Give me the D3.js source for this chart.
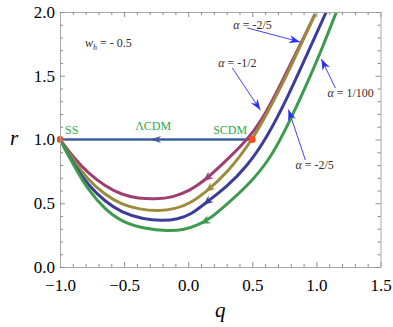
<!DOCTYPE html>
<html>
<head>
<meta charset="utf-8">
<script src="https://cdnjs.cloudflare.com/ajax/libs/d3/7.8.5/d3.min.js"></script>
<style>
	html, body { margin: 0; padding: 0; background: #fff; }
	svg { display: block; font-family: "Liberation Serif", "Times New Roman", serif; }
	.frame .domain { stroke: #a9a9a9; stroke-width: 1; }
	.frame .tick line { stroke: #8c8c8c; }
	.frame .tick text { fill: #000; }
</style>
</head>
<body>
<svg id="chart" width="393" height="327"></svg>
<script>

// ticks on the frame
const qTickValues = [-1, -0.5, 0, 0.5, 1, 1.5];
const qTickLabels = ['\u22121.0', '\u22120.5', '0.0', '0.5', '1.0', '1.5'];
const rTickValues = [0, 0.5, 1, 1.5, 2];
const rTickLabels = ['0.0', '0.5', '1.0', '1.5', '2.0'];

// r(q) trajectories ([q, r])
const magentaTrack = [[-1, 1], [-0.883, 0.845], [-0.781, 0.738], [-0.648, 0.632], [-0.516, 0.566],
	[-0.39, 0.538], [-0.258, 0.533], [-0.12, 0.545], [0.016, 0.6], [0.133, 0.682], [0.273, 0.812],
	[0.469, 1.004], [0.578, 1.16], [0.69, 1.37], [0.797, 1.59], [0.875, 1.745], [0.985, 1.975]];
const oliveTrack = [[-1, 1], [-0.883, 0.818], [-0.781, 0.684], [-0.648, 0.565], [-0.516, 0.488],
	[-0.38, 0.452], [-0.234, 0.439], [-0.1, 0.455], [0.016, 0.5], [0.133, 0.583], [0.305, 0.737],
	[0.5, 0.996], [0.617, 1.208], [0.758, 1.48], [0.875, 1.735], [0.987, 1.976]];
const blueTrack = [[-1, 1], [-0.883, 0.786], [-0.781, 0.643], [-0.648, 0.512], [-0.516, 0.426],
	[-0.36, 0.377], [-0.203, 0.361], [-0.08, 0.374], [0.02, 0.41], [0.133, 0.5], [0.302, 0.63],
	[0.458, 0.787], [0.617, 1.02], [0.773, 1.325], [0.93, 1.675], [1.084, 2.016]];
const greenTrack = [[-1, 1], [-0.883, 0.778], [-0.781, 0.606], [-0.648, 0.449], [-0.516, 0.353],
	[-0.34, 0.3], [-0.156, 0.282], [-0.03, 0.292], [0.08, 0.33], [0.17, 0.38], [0.273, 0.467],
	[0.458, 0.63], [0.641, 0.845], [0.797, 1.153], [0.94, 1.467], [1.045, 1.715], [1.162, 2.016]];

// q where the direction arrow sits on each track
const trackArrowQ = [0.117, 0.133, 0.117, 0.094];

// fixed points and the LCDM segment
const fixedPointNames = ['SS', 'SCDM'];
const fixedPointQ = [-1, 0.5];
const fixedPointR = [1, 1];
const lcdmSegment = [[0.5, 1], [-1, 1]];
const lcdmArrowQ = -0.297;

// alpha labels of the annotation arrows
const alphaLabels = ['-2/5', '-1/2', '1/100', '-2/5'];
const wh = '- 0.5';


window.app = window.app || {};

window.app.phaseChart = (function() {

	'use strict';

	var svg,
		xScale,
		yScale,
		settings = {
			left: 60,
			right: 380.5,
			top: 12,
			bottom: 267,
			fontFamily: '"Liberation Serif", "Times New Roman", serif',
			tickFontSize: 17,
			trackColors: ['#9d3f73', '#9c8b3d', '#3c3c99', '#3c9b4d'],
			lcdmColor: '#3e5d9e',
			dotColor: '#ff4a12',
			noteColor: '#2d2dfa',
			labelGreen: '#2bab4a',
			textDark: '#3c2a2a'
		};

	// where the texts and annotation arrows sit, in data units
	var layout = {
		pointLabels: [
			{text: 'SS', q: -0.961, r: 1.043},
			{text: '\u039BCDM', q: -0.414, r: 1.075},
			{text: 'SCDM', q: 0.195, r: 1.043}
		],
		whLabel: {q: -0.805, r: 1.725},
		notes: [
			{text: {q: 0.352, r: 1.867}, from: [0.461, 1.875], to: [0.873, 1.765]},
			{text: {q: 0.234, r: 1.569}, from: [0.344, 1.561], to: [0.563, 1.231]},
			{text: {q: 1.086, r: 1.333}, from: [1.148, 1.404], to: [1.039, 1.631]},
			{text: {q: 0.836, r: 0.769}, from: [0.914, 0.839], to: [0.782, 1.235]}
		]
	};


	/**
	* scales for q (x) and r (y)
	* @returns {undefined}
	*/
	const createScales = function() {
		xScale = d3.scaleLinear().domain([-1, 1.5]).range([settings.left, settings.right]);
		yScale = d3.scaleLinear().domain([0, 2]).range([settings.bottom, settings.top]);
	};


	/**
	* mathematica style frame: ticks pointing inwards on all 4 sides
	* @returns {undefined}
	*/
	const createFrame = function() {
		let qMinor = d3.range(-10, 16).map(function(d) { return d / 10; })
				.filter(function(d) { return Math.round(d * 10) % 5 !== 0; }),
			rMinor = d3.range(0, 21).map(function(d) { return d / 10; })
				.filter(function(d) { return Math.round(d * 10) % 5 !== 0; });

		let sides = [
			{axis: d3.axisBottom(xScale), t: [0, settings.bottom], major: qTickValues, minor: qMinor, labels: qTickLabels, pad: 12.3},
			{axis: d3.axisTop(xScale), t: [0, settings.top], major: qTickValues, minor: qMinor, labels: null},
			{axis: d3.axisLeft(yScale), t: [settings.left, 0], major: rTickValues, minor: rMinor, labels: rTickLabels, pad: 5},
			{axis: d3.axisRight(yScale), t: [settings.right, 0], major: rTickValues, minor: rMinor, labels: null}
		];

		sides.forEach(function(s) {
			let g = svg.append('g')
				.attr('class', 'frame')
				.attr('transform', 'translate(' + s.t[0] + ',' + s.t[1] + ')');

			g.call(s.axis.tickValues(s.major)
				.tickSizeInner(-5)
				.tickSizeOuter(0)
				.tickPadding(s.pad || 3)
				.tickFormat(function(d, i) { return s.labels ? s.labels[i] : ''; }));

			g.attr('font-family', settings.fontFamily)
				.attr('font-size', settings.tickFontSize);

			// minor ticks
			let mg = svg.append('g')
				.attr('class', 'frame')
				.attr('transform', 'translate(' + s.t[0] + ',' + s.t[1] + ')');
			mg.call(s.axis.tickValues(s.minor).tickSizeInner(-3).tickFormat(''));
			mg.select('.domain').remove();
		});
	};


	/**
	* find the point of a path at a given q, and the backward direction there
	* @returns {object} x, y, angle in degrees
	*/
	const pointOnPath = function(node, qValue) {
		let target = xScale(qValue),
			total = node.getTotalLength(),
			lo = 0,
			hi = total;

		for (let k = 0; k < 30; k++) {
			let mid = (lo + hi) / 2;
			if (node.getPointAtLength(mid).x < target) {
				lo = mid;
			} else {
				hi = mid;
			}
		}

		let p = node.getPointAtLength(lo),
			ahead = node.getPointAtLength(Math.min(total, lo + 2)),
			behind = node.getPointAtLength(Math.max(0, lo - 2));

		return {
			x: p.x,
			y: p.y,
			angle: Math.atan2(behind.y - ahead.y, behind.x - ahead.x) * 180 / Math.PI
		};
	};


	const arrowHead = function(parent, x, y, angle, color, len, half) {
		parent.append('path')
			.attr('d', 'M0,0L' + (-len) + ',' + (-half) + 'L' + (-len * 0.7) + ',0L' + (-len) + ',' + half + 'Z')
			.attr('transform', 'translate(' + x + ',' + y + ') rotate(' + angle + ')')
			.attr('fill', color);
	};


	/**
	* the four trajectories with their direction arrows
	* @returns {undefined}
	*/
	const addTracks = function() {
		svg.append('clipPath')
			.attr('id', 'plot-clip')
			.append('rect')
			.attr('x', settings.left - 3)
			.attr('y', settings.top)
			.attr('width', settings.right - settings.left + 3)
			.attr('height', settings.bottom - settings.top);

		// basis spline smooths out the reading noise of the points
		let line = d3.line()
			.x(function(d) { return xScale(d[0]); })
			.y(function(d) { return yScale(d[1]); })
			.curve(d3.curveBasis);

		let g = svg.append('g').attr('clip-path', 'url(#plot-clip)');

		// LCDM segment between the fixed points
		g.append('path')
			.attr('d', d3.line()(lcdmSegment.map(function(d) { return [xScale(d[0]), yScale(d[1])]; })))
			.attr('fill', 'none')
			.attr('stroke', settings.lcdmColor)
			.attr('stroke-width', 2.5);
		arrowHead(g, xScale(lcdmArrowQ), yScale(1), 180, settings.lcdmColor, 11, 3.5);

		[magentaTrack, oliveTrack, blueTrack, greenTrack].forEach(function(track, i) {
			let path = g.append('path')
				.attr('d', line(track))
				.attr('fill', 'none')
				.attr('stroke', settings.trackColors[i])
				.attr('stroke-width', 3)
				.attr('stroke-linecap', 'round');

			let p = pointOnPath(path.node(), trackArrowQ[i]);
			arrowHead(g, p.x, p.y, p.angle, settings.trackColors[i], 10, 4.2);
		});

		g.selectAll('.fixed-point')
			.data(fixedPointNames)
			.enter()
			.append('circle')
			.attr('class', 'fixed-point')
			.attr('cx', function(d, i) { return xScale(fixedPointQ[i]); })
			.attr('cy', function(d, i) { return yScale(fixedPointR[i]); })
			.attr('r', 3.4)
			.attr('fill', settings.dotColor);
	};


	/**
	* text labels, annotation arrows and axis titles
	* @returns {undefined}
	*/
	const addLabels = function() {
		svg.selectAll('.point-label')
			.data(layout.pointLabels)
			.enter()
			.append('text')
			.attr('class', 'point-label')
			.attr('x', function(d) { return xScale(d.q); })
			.attr('y', function(d) { return yScale(d.r); })
			.attr('font-size', 12)
			.attr('fill', settings.labelGreen)
			.text(function(d) { return d.text; });

		let w = svg.append('text')
			.attr('x', xScale(layout.whLabel.q))
			.attr('y', yScale(layout.whLabel.r))
			.attr('font-size', 12)
			.attr('fill', settings.textDark);
		w.append('tspan').attr('font-style', 'italic').text('w');
		w.append('tspan').attr('font-style', 'italic').attr('font-size', 8).attr('dy', 3).text('h');
		w.append('tspan').attr('dy', -3).text(' = ' + wh);

		layout.notes.forEach(function(note, i) {
			let x1 = xScale(note.from[0]), y1 = yScale(note.from[1]),
				x2 = xScale(note.to[0]), y2 = yScale(note.to[1]);

			svg.append('line')
				.attr('x1', x1).attr('y1', y1)
				.attr('x2', x2).attr('y2', y2)
				.attr('stroke', settings.noteColor)
				.attr('stroke-width', 0.9);
			arrowHead(svg, x2, y2, Math.atan2(y2 - y1, x2 - x1) * 180 / Math.PI, settings.noteColor, 11, 4);

			let t = svg.append('text')
				.attr('x', xScale(note.text.q))
				.attr('y', yScale(note.text.r))
				.attr('font-size', 12)
				.attr('fill', settings.textDark);
			t.append('tspan').attr('font-style', 'italic').text('\u03B1');
			t.append('tspan').text(' = ' + alphaLabels[i]);
		});

		svg.append('text')
			.attr('x', (settings.left + settings.right) / 2)
			.attr('y', 317)
			.attr('text-anchor', 'middle')
			.attr('font-size', 21)
			.attr('font-style', 'italic')
			.text('q');

		svg.append('text')
			.attr('x', 14)
			.attr('y', (settings.top + settings.bottom) / 2 + 5)
			.attr('text-anchor', 'middle')
			.attr('font-size', 21)
			.attr('font-style', 'italic')
			.text('r');
	};


	const drawChart = function(selector) {
		svg = d3.select(selector);
		createScales();
		addTracks();
		createFrame();
		addLabels();
	};

	return {
		drawChart
	};

})();

window.app.phaseChart.drawChart('#chart');
</script>
</body>
</html>
